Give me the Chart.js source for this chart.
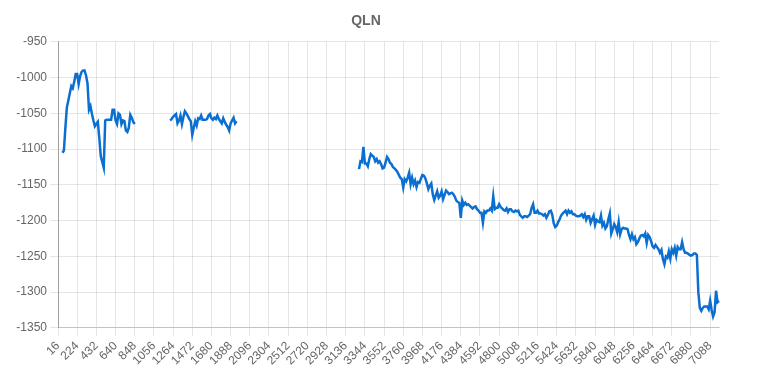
<!DOCTYPE html>
<html>
<head>
<meta charset="utf-8">
<script src="https://cdn.jsdelivr.net/npm/chart.js@4"></script>
<style>
  html, body { margin: 0; padding: 0; background: #fff; }
  #wrap { width: 766px; height: 377px; }
</style>
</head>
<body>
<div id="wrap"><canvas id="qln"></canvas></div>
<script>
// x labels: 16, 32, 48 ... (one point every 16)
const pointCount = 449;
const xLabels = Array.from({ length: pointCount }, (_, i) => String(16 + i * 16));

// three measured stretches, gaps in between are empty
const seg1Start = 3;
const seg1 = [
  -1105, -1102, -1070, -1042, -1032, -1022, -1012, -1015, -1006, -995,
  -995, -1009, -998, -992, -990, -990, -997, -1008, -1045, -1040,
  -1051, -1060, -1068, -1065, -1062, -1085, -1110, -1118, -1126, -1060,
  -1059, -1059, -1059, -1059, -1045, -1045, -1060, -1065, -1050, -1052,
  -1065, -1060, -1061, -1074, -1076, -1070, -1052, -1056, -1062, -1065
];

const seg2Start = 76;
const seg2 = [
  -1060, -1058, -1055, -1053, -1051, -1064, -1060, -1053, -1065, -1055,
  -1047, -1050, -1054, -1058, -1061, -1080, -1070, -1061, -1067, -1057,
  -1058, -1053, -1059, -1059, -1059, -1058, -1053, -1051, -1057, -1059,
  -1056, -1058, -1053, -1058, -1061, -1064, -1057, -1062, -1066, -1069,
  -1074, -1064, -1060, -1056, -1064, -1061
];

const seg3Start = 204;
const seg3 = [
  -1128, -1117, -1118, -1097, -1120, -1120, -1124, -1114, -1107, -1109,
  -1111, -1117, -1114, -1119, -1117, -1121, -1127, -1126, -1119, -1111,
  -1114, -1119, -1121, -1125, -1127, -1129, -1132, -1136, -1140, -1142,
  -1154, -1142, -1145, -1140, -1133, -1149, -1140, -1149, -1144, -1153,
  -1146, -1147, -1141, -1136, -1137, -1141, -1148, -1156, -1151, -1148,
  -1163, -1171, -1165, -1159, -1168, -1165, -1159, -1170, -1164, -1158,
  -1160, -1163, -1162, -1161, -1163, -1167, -1172, -1174, -1175, -1196,
  -1172, -1178, -1175, -1178, -1177, -1179, -1181, -1183, -1181, -1180,
  -1184, -1186, -1189, -1189, -1203, -1187, -1189, -1186, -1186, -1183,
  -1186, -1166, -1184, -1182, -1182, -1177, -1181, -1183, -1185, -1186,
  -1183, -1188, -1184, -1184, -1187, -1188, -1186, -1187, -1186, -1192,
  -1194, -1196, -1194, -1194, -1195, -1193, -1191, -1182, -1177, -1189,
  -1189, -1186, -1190, -1190, -1191, -1193, -1191, -1196, -1192, -1187,
  -1186, -1192, -1204, -1209, -1207, -1202, -1198, -1193, -1190, -1188,
  -1186, -1191, -1186, -1189, -1187, -1191, -1191, -1193, -1194, -1194,
  -1193, -1191, -1195, -1191, -1199, -1194, -1194, -1203, -1198, -1193,
  -1206, -1199, -1201, -1202, -1193, -1207, -1203, -1211, -1208, -1198,
  -1190, -1218, -1212, -1205, -1209, -1216, -1202, -1219, -1212, -1210,
  -1211, -1211, -1212, -1220, -1226, -1219, -1226, -1223, -1233, -1230,
  -1225, -1221, -1220, -1222, -1218, -1231, -1220, -1223, -1229, -1236,
  -1238, -1234, -1237, -1240, -1245, -1241, -1254, -1261, -1250, -1252,
  -1243, -1253, -1240, -1245, -1238, -1249, -1237, -1240, -1240, -1230,
  -1240, -1245, -1245, -1246, -1248, -1249, -1248, -1246, -1246, -1248,
  -1300, -1322, -1326, -1322, -1320, -1320, -1320, -1324, -1312, -1325,
  -1334, -1328, -1298, -1314, -1312
];

const qlnValues = new Array(pointCount).fill(null);
[[seg1Start, seg1], [seg2Start, seg2], [seg3Start, seg3]].forEach(([start, vals]) => {
  vals.forEach((v, k) => { qlnValues[start + k] = v; });
});

const labelEvery = 13;
const tickFont = { family: '"Liberation Sans", Arial, sans-serif', size: 12 };

const ctx = document.getElementById('qln').getContext('2d');
const chart = new Chart(ctx, {
  type: 'line',
  data: {
    labels: xLabels,
    datasets: [{
      label: 'QLN',
      data: qlnValues,
      borderColor: '#0a6fd0',
      backgroundColor: '#0a6fd0',
      borderWidth: 2.5,
      pointRadius: 0,
      tension: 0,
      spanGaps: false,
      fill: false
    }]
  },
  options: {
    responsive: true,
    maintainAspectRatio: false,
    animation: false,
    layout: { padding: { left: 0, right: 34, top: 0, bottom: 6 } },
    plugins: {
      legend: { display: false },
      tooltip: { enabled: false },
      title: {
        display: true,
        text: 'QLN',
        color: '#666',
        font: { family: '"Liberation Sans", Arial, sans-serif', size: 14, weight: 'bold' },
        padding: { top: 13, bottom: 12 }
      }
    },
    scales: {
      x: {
        // keep the plot's right edge where the original ends
        afterFit: function(scale) { scale.paddingRight = 47; },
        ticks: {
          autoSkip: false,
          maxRotation: 45,
          minRotation: 45,
          color: '#666',
          font: tickFont,
          callback: function(val, idx) {
            return idx % labelEvery === 0 ? xLabels[idx] : null;
          }
        },
        grid: { color: 'rgba(0,0,0,0.1)', tickLength: 8 },
        border: { color: 'rgba(0,0,0,0.15)' }
      },
      y: {
        min: -1350,
        max: -950,
        afterFit: function(scale) { scale.width = 58; },
        ticks: {
          stepSize: 50,
          color: '#666',
          font: tickFont,
          callback: function(val) { return String(val); }
        },
        grid: { color: 'rgba(0,0,0,0.1)', tickLength: 8 },
        border: { color: 'rgba(0,0,0,0.3)' }
      }
    }
  }
});
</script>
</body>
</html>
